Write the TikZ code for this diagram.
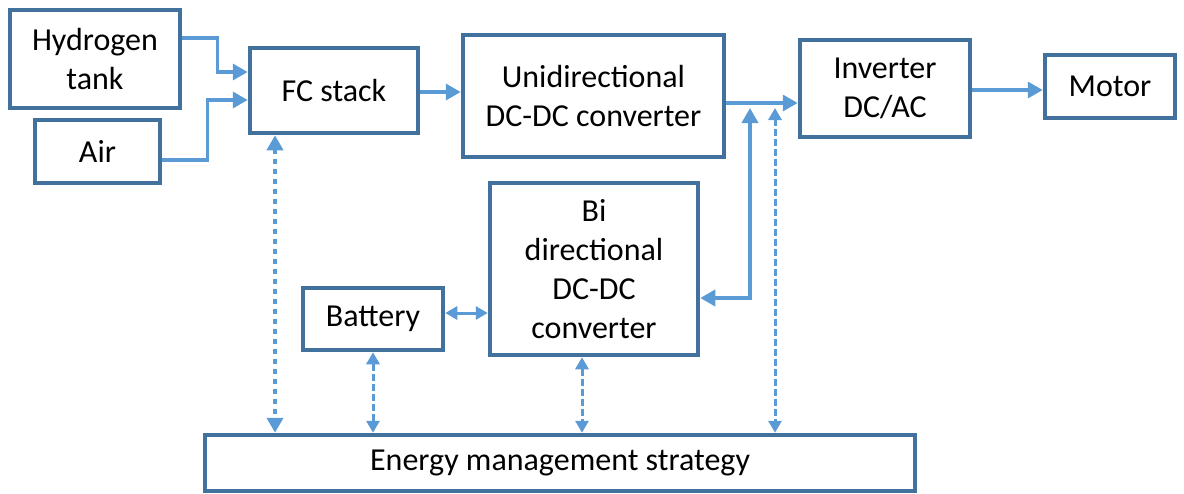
\documentclass[tikz,border=0pt]{standalone}
\usepackage{fontspec}
\setmainfont{Carlito}
\usetikzlibrary{arrows.meta}
\definecolor{boxblue}{HTML}{41719C}
\definecolor{flowblue}{HTML}{5B9BD5}
\begin{document}
\begin{tikzpicture}[x=1pt,y=-1pt,
  blk/.style={draw=boxblue,line width=4.5pt,fill=white,inner sep=2pt,align=center,font=\fontsize{32}{39}\selectfont},
  flow/.style={draw=flowblue,line width=3.5pt,-{Triangle[length=15pt,width=16pt]}},
  biflow/.style={flow,{Triangle[length=15pt,width=16pt]}-{Triangle[length=15pt,width=16pt]}},
  dotflow/.style={biflow,line width=4.5pt,dash pattern=on 5pt off 5pt},
  dashflow/.style={draw=flowblue,line width=3pt,dash pattern=on 7pt off 3pt,{Triangle[length=12pt,width=13pt]}-{Triangle[length=12pt,width=13pt]}}]
\path[use as bounding box] (0,0) rectangle (1184,493);
\node[blk,minimum width=170pt,minimum height=98pt] (h2tank) at (95,59) {Hydrogen\\tank};
\node[blk,minimum width=125pt,minimum height=63pt] (air) at (97.5,151.5) {Air};
\node[blk,minimum width=168pt,minimum height=85pt] (fcstack) at (334,90.5) {FC stack};
\node[blk,minimum width=261pt,minimum height=122pt] (unidc) at (593.5,96) {Unidirectional\\DC-DC converter};
\node[blk,minimum width=170pt,minimum height=97pt] (inverter) at (885,88.5) {Inverter\\DC/AC};
\node[blk,minimum width=130pt,minimum height=63pt] (motor) at (1110,86.5) {Motor};
\node[blk,minimum width=208pt,minimum height=172pt] (bidc) at (594,269) {Bi\\directional\\DC-DC\\converter};
\node[blk,minimum width=140pt,minimum height=62pt] (battery) at (373,319) {Battery};
\node[blk,minimum width=710pt,minimum height=56pt] (ems) at (560,463) {Energy management strategy};
\coordinate (jct) at (750,108);
\coordinate (ctl) at (775,108);
\draw[flow] ([yshift=21pt]h2tank.east) -- ++(35,0) |- ([yshift=18.5pt]fcstack.west);
\draw[flow] ([yshift=-8.5pt]air.east) -- ++(45,0) |- ([yshift=-9.5pt]fcstack.west);
\draw[flow] ([yshift=-1.5pt]fcstack.east) -- ([yshift=-1.5pt]fcstack.east -| unidc.west);
\draw[flow] ([yshift=-7pt]unidc.east) -- ([yshift=-7pt]unidc.east -| inverter.west);
\draw[flow] ([yshift=-1.5pt]inverter.east) -- ([yshift=-1.5pt]inverter.east -| motor.west);
\draw[biflow] ([yshift=-29pt]bidc.east) -| (jct);
\draw[biflow,line width=3pt,{Triangle[length=12pt,width=13pt]}-{Triangle[length=12pt,width=13pt]}] ([yshift=6pt]battery.east) -- ([yshift=6pt]battery.east -| bidc.west);
\draw[dashflow] (ctl) -- (ctl |- ems.north);
\draw[dotflow] ([xshift=-59pt]fcstack.south) -- ([xshift=-59pt]fcstack.south |- ems.north);
\draw[dashflow] (battery.south) -- (battery.south |- ems.north);
\draw[dashflow] ([xshift=-12pt]bidc.south) -- ([xshift=-12pt]bidc.south |- ems.north);
\end{tikzpicture}
\end{document}
